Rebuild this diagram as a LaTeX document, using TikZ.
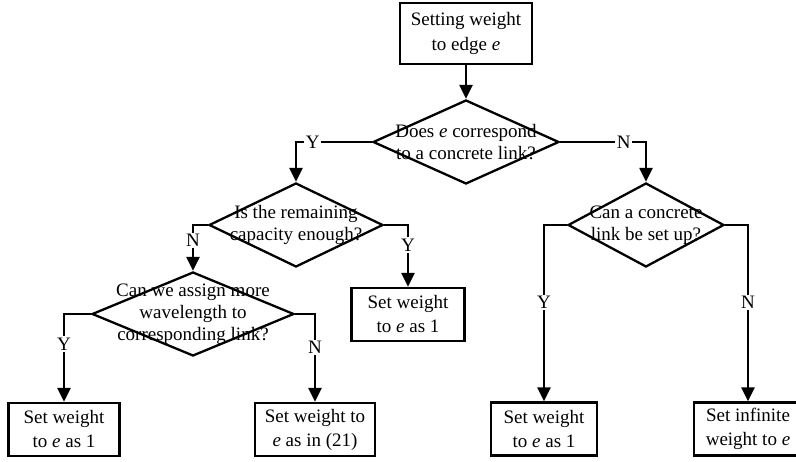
\documentclass[tikz,border=0pt]{standalone}
\usepackage{fontspec}
\setmainfont{Liberation Serif}
\usetikzlibrary{shapes.geometric,arrows.meta}

\begin{document}
\begin{tikzpicture}[x=1pt,y=-1pt,
    font=\fontsize{19}{24}\selectfont,
    line width=2.3pt,
    box/.style={draw,rectangle,minimum height=53pt,inner sep=0pt,align=center},
    decision/.style={draw,diamond,minimum height=84pt,inner sep=0pt},
    question/.style={align=center,inner sep=0pt,font=\fontsize{19}{22}\selectfont},
    arr/.style={-{Triangle[length=14pt,width=13pt]}},
    yn/.style={fill=white,inner sep=1.5pt}]
    
    \useasboundingbox (0,0) rectangle (796,462);

    %start:
    \node[box,minimum width=132pt,minimum height=61pt,font=\fontsize{19}{25}\selectfont] (start) at (466,33.5) {Setting weight\\to edge \emph{e}};

    %decisions:
    \node[decision,minimum width=186pt] (link) at (466,142) {};
    \node[question] (linkq) at (link) {Does \emph{e} correspond\\to a concrete link?};
    \node[decision,minimum width=174pt] (cap) at (296,225) {};
    \node[question] (capq) at (cap) {Is the remaining\\capacity enough?};
    \node[decision,minimum width=156pt] (setup) at (646,225) {};
    \node[question] (setupq) at (setup) {Can a concrete\\link be set up?};
    \node[decision,minimum width=202pt] (wave) at (193,314) {};
    \node[question] (waveq) at (wave) {Can we assign more\\wavelength to\\corresponding link?};

    %results:
    \node[box,minimum width=113pt] (capyes) at (408,314.5) {Set weight\\to \emph{e} as 1};
    \node[box,minimum width=111pt] (waveyes) at (64,429.5) {Set weight\\to \emph{e} as 1};
    \node[box,minimum width=120pt] (waveno) at (315,429.5) {Set weight to\\\emph{e} as in (21)};
    \node[box,minimum width=106pt] (setupyes) at (544,429) {Set weight\\to \emph{e} as 1};
    \node[box,minimum width=108pt] (setupno) at (748,429) {Set infinite\\weight to \emph{e}};

    %arrows:
    \draw[arr] (start) -- (link);
    \draw[arr] (link.west) -| node[yn,pos=.39] (linky) {Y} (cap.north);
    \draw[arr] (link.east) -| node[yn,pos=.37] (linkn) {N} (setup.north);
    \draw[arr] (cap.west) -| node[yn,pos=.67] (capn) {N} (wave.north);
    \draw[arr] (cap.east) -| node[yn,pos=.66] (capy) {Y} (capyes.north);
    \draw[arr] (wave.west) -| node[yn,pos=.67] (wavey) {Y} (waveyes.north);
    \draw[arr] (wave.east) -| node[yn,pos=.69] (waven) {N} (waveno.north);
    \draw[arr] (setup.west) -| node[yn,pos=.72] (setupy) {Y} (setupyes.north);
    \draw[arr] (setup.east) -| node[yn,pos=.72] (setupn) {N} (setupno.north);
    
\end{tikzpicture}
\end{document}
